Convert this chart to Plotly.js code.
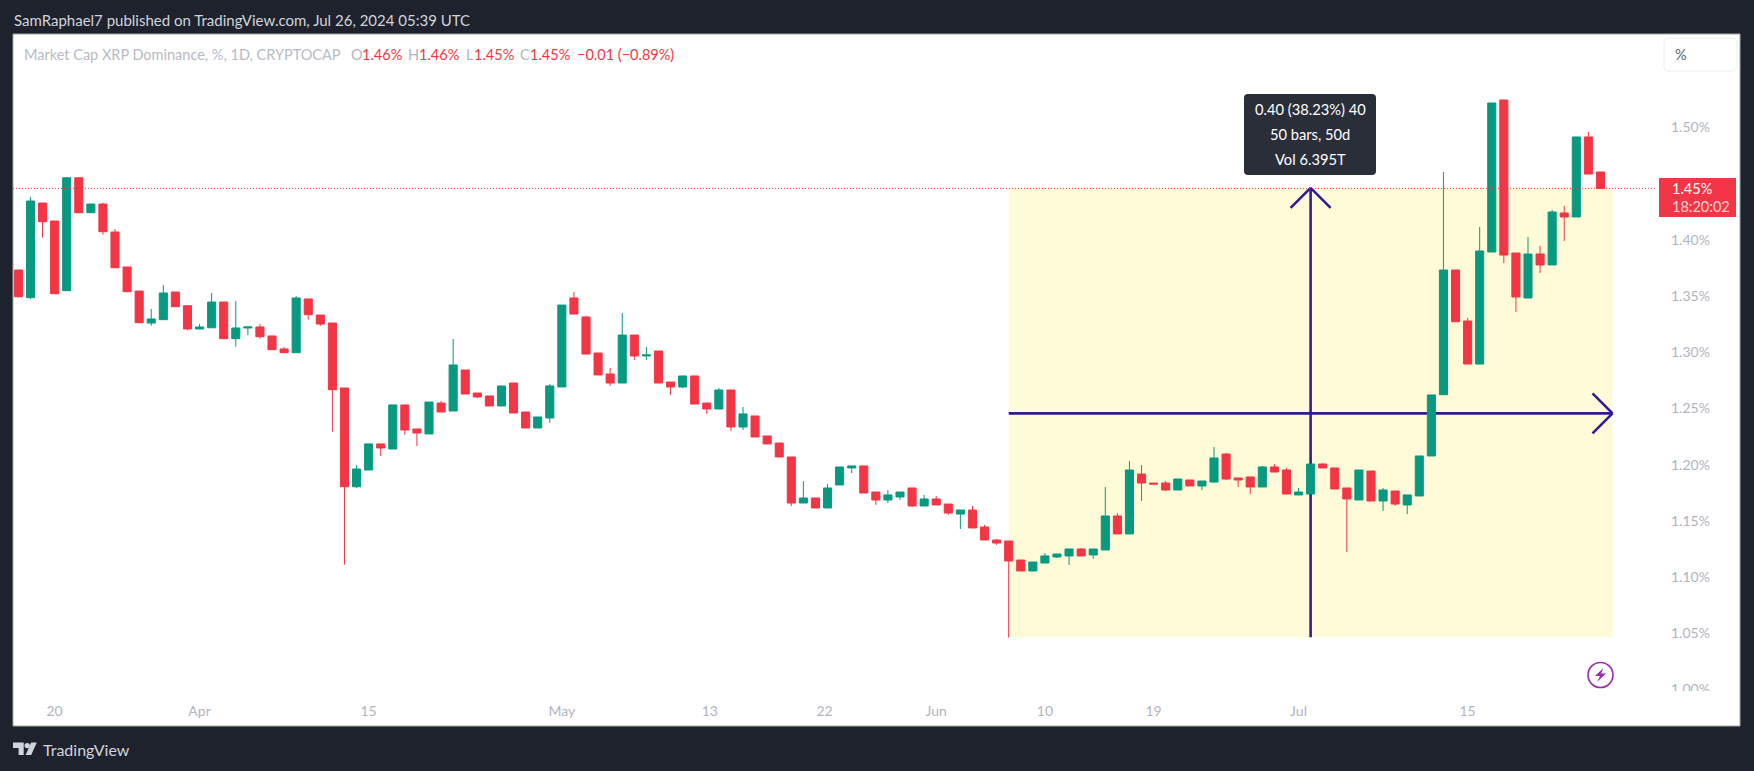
<!DOCTYPE html>
<html><head><meta charset="utf-8">
<script src="https://cdn.plot.ly/plotly-3.0.1.min.js"></script>
<style>html,body{margin:0;padding:0;background:#1e222d}#chart{width:1754px;height:771px}</style>
</head><body><div id="chart"></div>
<script>
const dates=["2024-03-17","2024-03-18","2024-03-19","2024-03-20","2024-03-21","2024-03-22","2024-03-23","2024-03-24","2024-03-25","2024-03-26","2024-03-27","2024-03-28","2024-03-29","2024-03-30","2024-03-31",
"2024-04-01","2024-04-02","2024-04-03","2024-04-04","2024-04-05","2024-04-06","2024-04-07","2024-04-08","2024-04-09","2024-04-10","2024-04-11","2024-04-12","2024-04-13","2024-04-14","2024-04-15","2024-04-16","2024-04-17","2024-04-18","2024-04-19","2024-04-20","2024-04-21","2024-04-22","2024-04-23","2024-04-24","2024-04-25","2024-04-26","2024-04-27","2024-04-28","2024-04-29","2024-04-30",
"2024-05-01","2024-05-02","2024-05-03","2024-05-04","2024-05-05","2024-05-06","2024-05-07","2024-05-08","2024-05-09","2024-05-10","2024-05-11","2024-05-12","2024-05-13","2024-05-14","2024-05-15","2024-05-16","2024-05-17","2024-05-18","2024-05-19","2024-05-20","2024-05-21","2024-05-22","2024-05-23","2024-05-24","2024-05-25","2024-05-26","2024-05-27","2024-05-28","2024-05-29","2024-05-30","2024-05-31",
"2024-06-01","2024-06-02","2024-06-03","2024-06-04","2024-06-05","2024-06-06","2024-06-07","2024-06-08","2024-06-09","2024-06-10","2024-06-11","2024-06-12","2024-06-13","2024-06-14","2024-06-15","2024-06-16","2024-06-17","2024-06-18","2024-06-19","2024-06-20","2024-06-21","2024-06-22","2024-06-23","2024-06-24","2024-06-25","2024-06-26","2024-06-27","2024-06-28","2024-06-29","2024-06-30",
"2024-07-01","2024-07-02","2024-07-03","2024-07-04","2024-07-05","2024-07-06","2024-07-07","2024-07-08","2024-07-09","2024-07-10","2024-07-11","2024-07-12","2024-07-13","2024-07-14","2024-07-15","2024-07-16","2024-07-17","2024-07-18","2024-07-19","2024-07-20","2024-07-21","2024-07-22","2024-07-23","2024-07-24","2024-07-25","2024-07-26"];
const opens=[1.3732,1.3486,1.4328,1.4168,1.3548,1.4553,1.4242,1.4319,1.4070,1.3759,1.3545,1.3260,1.3290,1.3536,1.3414,1.3207,1.3218,1.3447,1.3121,1.3216,1.3225,1.3145,1.3029,1.2996,1.3474,1.3331,1.3260,1.2682,1.1803,1.1952,1.2184,1.2139,1.2531,1.2317,1.2273,1.2548,1.2477,1.2842,1.2637,1.2611,1.2522,1.2726,1.2468,1.2326,1.2415,1.2691,1.3483,1.3314,1.2993,1.2806,1.2726,1.3153,1.2967,1.3011,1.2735,1.2691,1.2789,1.2548,1.2495,1.2664,1.2335,1.2433,1.2255,1.2192,1.2068,1.1658,1.1703,1.1614,1.1819,1.1970,1.1988,1.1756,1.1685,1.1712,1.1792,1.1632,1.1694,1.1649,1.1560,1.1596,1.1445,1.1329,1.1320,1.1151,1.1053,1.1124,1.1178,1.1187,1.1249,1.1196,1.1240,1.1543,1.1383,1.1916,1.1836,1.1836,1.1774,1.1863,1.1810,1.1845,1.2094,1.1881,1.1890,1.1801,1.1979,1.1952,1.1730,1.1738,1.2005,1.1970,1.1792,1.1685,1.1943,1.1676,1.1765,1.1641,1.1721,1.2077,1.2622,1.3732,1.3278,1.2895,1.3892,1.5245,1.3883,1.3483,1.3874,1.3777,1.4239,1.4204,1.4916,1.4604];
const highs=[1.3732,1.4384,1.4328,1.4168,1.4553,1.4553,1.4319,1.4330,1.4097,1.3759,1.3545,1.3385,1.3599,1.3536,1.3420,1.3251,1.3527,1.3447,1.3456,1.3225,1.3251,1.3145,1.3047,1.3501,1.3474,1.3331,1.3260,1.2682,1.1996,1.2184,1.2184,1.2531,1.2531,1.2317,1.2557,1.2566,1.3118,1.2842,1.2637,1.2611,1.2700,1.2726,1.2468,1.2424,1.2717,1.3420,1.3536,1.3323,1.2993,1.2860,1.3349,1.3153,1.3047,1.3011,1.2735,1.2789,1.2789,1.2548,1.2682,1.2664,1.2513,1.2433,1.2255,1.2192,1.2068,1.1854,1.1703,1.1827,1.1979,1.1988,1.1988,1.1756,1.1774,1.1756,1.1792,1.1730,1.1721,1.1649,1.1596,1.1632,1.1463,1.1338,1.1320,1.1151,1.1133,1.1213,1.1204,1.1249,1.1258,1.1249,1.1801,1.1569,1.2032,1.1996,1.1836,1.1854,1.1872,1.1863,1.1854,1.2157,1.2103,1.1881,1.1890,1.1988,1.2005,1.1970,1.1792,1.2005,1.2014,1.1970,1.1792,1.1952,1.1943,1.1792,1.1765,1.1730,1.2077,1.2620,1.4604,1.3732,1.3305,1.4115,1.5218,1.5245,1.3883,1.4026,1.3946,1.4266,1.4302,1.4916,1.4960,1.4604];
const lows=[1.3486,1.3474,1.4020,1.3521,1.3548,1.4242,1.4242,1.4046,1.3752,1.3539,1.3263,1.3236,1.3290,1.3405,1.3195,1.3204,1.3218,1.3121,1.3049,1.3153,1.3121,1.3023,1.2996,1.2996,1.3290,1.3234,1.2293,1.1109,1.1792,1.1952,1.2077,1.2139,1.2264,1.2166,1.2273,1.2468,1.2477,1.2628,1.2593,1.2522,1.2522,1.2459,1.2326,1.2326,1.2370,1.2691,1.3340,1.2984,1.2798,1.2700,1.2726,1.2931,1.2931,1.2726,1.2620,1.2682,1.2539,1.2451,1.2495,1.2299,1.2308,1.2246,1.2184,1.2068,1.1632,1.1658,1.1614,1.1614,1.1819,1.1925,1.1747,1.1641,1.1658,1.1685,1.1623,1.1632,1.1641,1.1552,1.1427,1.1436,1.1329,1.1285,1.0461,1.1053,1.1053,1.1124,1.1169,1.1107,1.1187,1.1160,1.1240,1.1383,1.1383,1.1676,1.1827,1.1765,1.1774,1.1810,1.1774,1.1836,1.1863,1.1801,1.1738,1.1801,1.1934,1.1738,1.1730,1.1738,1.1970,1.1783,1.1222,1.1685,1.1676,1.1587,1.1632,1.1560,1.1721,1.2077,1.2622,1.3272,1.2895,1.2895,1.3892,1.3794,1.3358,1.3483,1.3705,1.3777,1.3990,1.4204,1.4586,1.4458];
const closes=[1.3494,1.4346,1.4162,1.3521,1.4553,1.4242,1.4319,1.4073,1.3752,1.3539,1.3263,1.3296,1.3527,1.3405,1.3207,1.3225,1.3447,1.3121,1.3216,1.3225,1.3138,1.3023,1.2996,1.3483,1.3334,1.3251,1.2667,1.1803,1.1961,1.2184,1.2148,1.2531,1.2308,1.2281,1.2557,1.2468,1.2887,1.2628,1.2602,1.2522,1.2700,1.2459,1.2326,1.2424,1.2700,1.3420,1.3340,1.2984,1.2798,1.2726,1.3153,1.2967,1.2976,1.2726,1.2691,1.2789,1.2539,1.2495,1.2664,1.2335,1.2451,1.2246,1.2184,1.2068,1.1658,1.1703,1.1614,1.1792,1.1979,1.1988,1.1747,1.1685,1.1730,1.1756,1.1632,1.1694,1.1641,1.1569,1.1596,1.1436,1.1329,1.1302,1.1142,1.1053,1.1133,1.1187,1.1204,1.1249,1.1187,1.1249,1.1543,1.1383,1.1952,1.1836,1.1827,1.1774,1.1872,1.1810,1.1854,1.2059,1.1872,1.1863,1.1801,1.1979,1.1934,1.1738,1.1756,1.2005,1.1970,1.1783,1.1694,1.1952,1.1676,1.1774,1.1649,1.1730,1.2077,1.2620,1.3732,1.3272,1.2895,1.3901,1.5218,1.3865,1.3492,1.3874,1.3777,1.4248,1.4204,1.4916,1.4586,1.4458];
const xTickVals=["2024-03-20","2024-04-01","2024-04-15","2024-05-01","2024-05-13 06:00","2024-05-22 18:00","2024-06-01","2024-06-10","2024-06-19","2024-07-01","2024-07-15"];
const xTickText=["20","Apr","15","May","13","22","Jun","10","19","Jul","15"];
const yTickVals=[1.00,1.05,1.10,1.15,1.20,1.25,1.30,1.35,1.40,1.45,1.50];
const yTickText=["1.00%","1.05%","1.10%","1.15%","1.20%","1.25%","1.30%","1.35%","1.40%","","1.50%"];
const measureStart="2024-06-07", measureEnd="2024-07-27", measureMid="2024-07-02";
const measureLow=1.0463, measureHigh=1.4463, measureMidValue=1.2456;

const UP="#089981",DOWN="#f23645",INK="#311b92",BG="#1e222d",GREY="#b2b5be";
const FONT='Lato, "Noto Sans", sans-serif';
const L=13,R=1656,T=34,B=691;
const px=x=>(x-L)/(R-L), py=y=>(B-y)/(B-T);
function rounded(x0,y0,x1,y1,r){
  const X=a=>px(a),Y=a=>py(a);
  return `M${X(x0+r)},${Y(y0)} L${X(x1-r)},${Y(y0)} Q${X(x1)},${Y(y0)} ${X(x1)},${Y(y0+r)} L${X(x1)},${Y(y1-r)} Q${X(x1)},${Y(y1)} ${X(x1-r)},${Y(y1)} L${X(x0+r)},${Y(y1)} Q${X(x0)},${Y(y1)} ${X(x0)},${Y(y1-r)} L${X(x0)},${Y(y0+r)} Q${X(x0)},${Y(y0)} ${X(x0+r)},${Y(y0)} Z`;
}
function poly(pts){return "M"+pts.map(p=>px(p[0])+","+py(p[1])).join(" L")+" Z";}
const paperShape=(o)=>Object.assign({xref:"paper",yref:"paper"},o);
const seg=(x0,y0,x1,y1)=>({type:"line",xref:"x",yref:"y",x0,y0,x1,y1,layer:"below",line:{color:INK,width:2.6}});
const shapes=[
  paperShape({type:"rect",x0:px(13),x1:px(1740),y0:py(726),y1:py(34),layer:"below",fillcolor:"#ffffff",line:{color:"#a3a6af",width:1}}),
  {type:"rect",xref:"x",yref:"y",x0:measureStart,x1:measureEnd,y0:measureLow,y1:measureHigh,layer:"below",fillcolor:"#fffbd8",line:{width:0}},
  {type:"line",xref:"paper",yref:"y",x0:0,x1:1,y0:closes[closes.length-1],y1:closes[closes.length-1],layer:"above",line:{color:DOWN,width:1,dash:"1px,2px"}},
  seg(measureStart,measureMidValue,measureEnd,measureMidValue),
  seg("2024-07-25 08:15",measureMidValue+0.0178,measureEnd,measureMidValue),
  seg("2024-07-25 08:15",measureMidValue-0.0178,measureEnd,measureMidValue),
  seg(measureMid,measureLow,measureMid,measureHigh),
  seg("2024-06-30 08:15",measureHigh-0.0178,measureMid,measureHigh),
  seg("2024-07-03 15:45",measureHigh-0.0178,measureMid,measureHigh),
  paperShape({type:"path",path:rounded(1244,94,1376,175,4),layer:"above",fillcolor:"#2a2e39",line:{width:0}}),
  paperShape({type:"rect",x0:px(1659),x1:px(1736),y0:py(217),y1:py(178),layer:"above",fillcolor:DOWN,line:{width:0}}),
  paperShape({type:"path",path:rounded(1664,38,1737,71,5),layer:"above",fillcolor:"#ffffff",line:{color:"#eceef2",width:1}}),
  paperShape({type:"rect",x0:px(1660),x1:px(1730),y0:py(698),y1:py(691),layer:"above",fillcolor:"#ffffff",line:{width:0}}),
  paperShape({type:"circle",x0:px(1588),x1:px(1613),y0:py(687.5),y1:py(662.5),layer:"above",fillcolor:"rgba(0,0,0,0)",line:{color:"#9c27b0",width:1.6}}),
  paperShape({type:"path",path:poly([[1603.5,668],[1595,676],[1600,676],[1597,682],[1606,673.5],[1601,673.5]]),layer:"above",fillcolor:"#9c27b0",line:{width:0}}),
  paperShape({type:"path",path:poly([[13,742.5],[23.7,742.5],[23.7,755],[18.6,755],[18.6,748],[13,748]]),layer:"above",fillcolor:"#d1d4dc",line:{width:0}}),
  paperShape({type:"circle",x0:px(24.5),x1:px(29.9),y0:py(748.3),y1:py(742.9),layer:"above",fillcolor:"#d1d4dc",line:{width:0}}),
  paperShape({type:"path",path:poly([[31.2,742.5],[36.8,742.5],[31.2,755],[25.6,755]]),layer:"above",fillcolor:"#d1d4dc",line:{width:0}})
];
const txt=(text,x,y,o={})=>{const {font,...rest}=o;return Object.assign({text,x:px(x),y:py(y),xref:"paper",yref:"paper",xanchor:"left",yanchor:"middle",showarrow:false,align:"left",borderpad:0,font:Object.assign({family:FONT,size:14.5,color:GREY},font||{})},rest);};
const annotations=[
  txt("SamRaphael7 published on TradingView.com, Jul 26, 2024 05:39 UTC",13,20,{font:{size:15,color:"#d1d4dc"}}),
  txt("Market Cap XRP Dominance, %, 1D, CRYPTOCAP",23,54,{font:{size:14.5,color:"#b8bbc4"}}),
  txt("O",350,54),txt("1.46%",361,54,{font:{color:DOWN}}),
  txt("H",407,54),txt("1.46%",418,54,{font:{color:DOWN}}),
  txt("L",465,54),txt("1.45%",473,54,{font:{color:DOWN}}),
  txt("C",519,54),txt("1.45%",529,54,{font:{color:DOWN}}),
  txt("−0.01 (−0.89%)",576,54,{font:{color:DOWN}}),
  txt("0.40 (38.23%) 40",1310,109,{xanchor:"center",font:{size:14.7,color:"#ffffff"}}),
  txt("50 bars, 50d",1310,134,{xanchor:"center",font:{size:14.7,color:"#ffffff"}}),
  txt("Vol 6.395T",1310,159,{xanchor:"center",font:{size:14.7,color:"#ffffff"}}),
  txt("1.45%",1671,188.5,{font:{size:14.5,color:"#ffffff"}}),
  txt("18:20:02",1671,206.5,{font:{size:14.5,color:"#ffd0d5"}}),
  txt("%",1674,54,{font:{size:14.5,color:"#5d606b"}}),
  txt("TradingView",42,749.5,{font:{size:16,color:"#d1d4dc"}})
];
const trace={type:"candlestick",x:dates,open:opens,high:highs,low:lows,close:closes,whiskerwidth:0,
  increasing:{line:{color:UP,width:1},fillcolor:UP},decreasing:{line:{color:DOWN,width:1},fillcolor:DOWN},hoverinfo:"skip"};
const layout={width:1754,height:771,paper_bgcolor:BG,plot_bgcolor:"#ffffff",showlegend:false,boxgap:0.33,boxgroupgap:0,
  margin:{l:L,r:1754-R,t:T,b:771-B,pad:0},font:{family:FONT,size:14,color:GREY},
  xaxis:{type:"date",range:["2024-03-16 13:16","2024-07-30 14:24"],rangeslider:{visible:false},showgrid:false,zeroline:false,showline:false,
    tickmode:"array",tickvals:xTickVals,ticktext:xTickText,ticklen:0,ticklabelstandoff:10,tickfont:{family:FONT,size:14,color:GREY},tickangle:0},
  yaxis:{side:"right",range:[0.99851,1.58324],showgrid:false,zeroline:false,showline:false,tickmode:"array",tickvals:yTickVals,ticktext:yTickText,ticklen:0,ticklabelstandoff:14,tickfont:{family:FONT,size:14,color:GREY}},
  shapes,annotations};
Plotly.newPlot("chart",[trace],layout,{displayModeBar:false,staticPlot:true});
</script></body></html>
